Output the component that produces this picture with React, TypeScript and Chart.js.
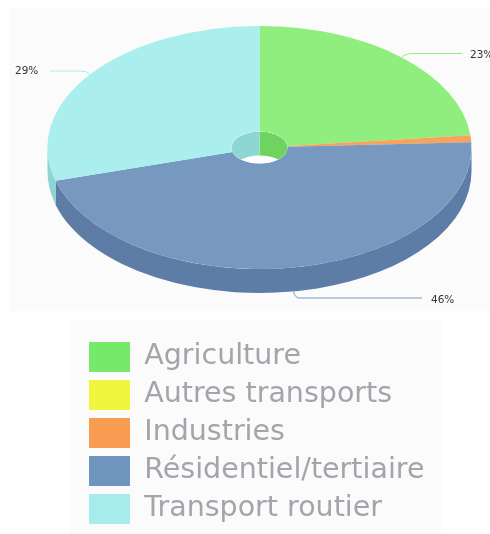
import React, { useEffect, useRef } from "react";
import { Chart, registerables } from "chart.js";

Chart.register(...registerables);

const categories = ["Agriculture", "Autres transports", "Industries", "Résidentiel/tertiaire", "Transport routier"];
const shares = [23.4, 0, 0.9, 46.3, 29.4];

const sliceColors = ["#90ee7e", "#f1f53c", "#f7a35c", "#7798bf", "#aaeeee"];
const swatchColors = ["#74e96a", "#f0f53e", "#f79c50", "#6f94bd", "#a6ecea"];
const wallColors = ["#6fd45f", "#c8cc30", "#d08a4c", "#5d7ca6", "#8dd6d2"];

// Projection of the flat pie
const CX = 259.5;
const CY = 147.5;
const RX = 212;
const RY = 121.5;
const HOLE = 28;
const DEPTH = 24;
const K = RY / RX;

type Callout = { index: number; bendX: number; bendY: number; endX: number; endY: number; textX: number; textY: number };
const callouts: Callout[] = [
  { index: 0, bendX: 12, bendY: -3, endX: 462, endY: 53.5, textX: 470, textY: 55 },
  { index: 3, bendX: 6, bendY: 6, endX: 422, endY: 298, textX: 431, textY: 300 },
  { index: 4, bendX: -10, bendY: -3, endX: 50, endY: 71, textX: 15, textY: 71.5 },
];

const pie3d = {
  id: "pie3d",
  beforeDraw(chart: any) {
    const { ctx } = chart;
    ctx.save();
    ctx.fillStyle = "#ffffff";
    ctx.fillRect(0, 0, 490, 534);
    ctx.fillStyle = "#fbfbfb";
    ctx.fillRect(9, 8, 481, 303);
    ctx.fillRect(70, 320, 371, 214);
    ctx.restore();
  },
  beforeDatasetsDraw(chart: any) {
    const { ctx } = chart;
    const arcs = chart.getDatasetMeta(0).data;
    ctx.save();
    arcs.forEach((arc: any, i: number) => {
      const a = Math.max(arc.startAngle, 0);
      const b = Math.min(arc.endAngle, Math.PI);
      if (b <= a) return;
      ctx.beginPath();
      ctx.ellipse(CX, CY, RX, RY, 0, a, b);
      ctx.ellipse(CX, CY + DEPTH, RX, RY, 0, b, a, true);
      ctx.closePath();
      ctx.fillStyle = wallColors[i];
      ctx.fill();
    });
    ctx.restore();
    ctx.save();
    const a0 = arcs[0];
    ctx.translate(CX, CY);
    ctx.scale(1, K);
    ctx.translate(-a0.x, -a0.y);
  },
  afterDatasetsDraw(chart: any) {
    const { ctx } = chart;
    ctx.restore();
    const arcs = chart.getDatasetMeta(0).data;

    // Hole: background, then the far inner wall
    const hr = HOLE * K;
    ctx.save();
    ctx.beginPath();
    ctx.ellipse(CX, CY, HOLE, hr, 0, 0, Math.PI * 2);
    ctx.clip();
    ctx.fillStyle = "#ffffff";
    ctx.fillRect(CX - HOLE, CY - hr, HOLE * 2, hr * 2);
    arcs.forEach((arc: any, i: number) => {
      [[-Math.PI, 0], [Math.PI, Math.PI * 2]].forEach(([lo, hi]) => {
        const a = Math.max(arc.startAngle, lo);
        const b = Math.min(arc.endAngle, hi);
        if (b <= a) return;
        ctx.beginPath();
        ctx.ellipse(CX, CY, HOLE, hr, 0, a, b);
        ctx.ellipse(CX, CY + DEPTH, HOLE, hr, 0, b, a, true);
        ctx.closePath();
        ctx.fillStyle = wallColors[i];
        ctx.fill();
      });
    });
    ctx.restore();

    // Callouts
    ctx.save();
    ctx.font = "10.5px 'DejaVu Sans'";
    ctx.textBaseline = "middle";
    ctx.textAlign = "left";
    callouts.forEach((c) => {
      const arc = arcs[c.index];
      const mid = (arc.startAngle + arc.endAngle) / 2;
      const sin = Math.sin(mid);
      const x = CX + RX * Math.cos(mid);
      const y = CY + RY * sin + (sin > 0 ? DEPTH : 0);
      ctx.beginPath();
      ctx.moveTo(x, y);
      ctx.quadraticCurveTo(x + c.bendX * 0.3, c.endY, x + c.bendX, c.endY);
      ctx.lineTo(c.endX, c.endY);
      ctx.strokeStyle = sliceColors[c.index];
      ctx.lineWidth = 1;
      ctx.stroke();
      ctx.fillStyle = "#333333";
      ctx.fillText(`${Math.round(shares[c.index])}%`, c.textX, c.textY);
    });
    ctx.restore();
  },
};

export default function App() {
  const ref = useRef<HTMLCanvasElement>(null);
  useEffect(() => {
    const chart = new Chart(ref.current!, {
      type: "doughnut",
      data: {
        labels: categories,
        datasets: [{ data: shares, backgroundColor: sliceColors, borderWidth: 0, clip: false } as any],
      },
      options: {
        responsive: false,
        animation: false,
        events: [],
        radius: RX,
        cutout: `${(HOLE / RX) * 100}%`,
        layout: { padding: { left: 81 } },
        plugins: {
          tooltip: { enabled: false },
          legend: {
            position: "bottom",
            align: "start",
            maxHeight: 200,
            labels: {
              boxWidth: 41,
              boxHeight: 30,
              padding: 8,
              color: "#a3a5ab",
              font: { family: "'DejaVu Sans'", size: 28.5, lineHeight: 1 },
              generateLabels: () =>
                categories.map((text, i) => ({
                  text,
                  fillStyle: swatchColors[i],
                  strokeStyle: swatchColors[i],
                  fontColor: "#a3a5ab",
                  lineWidth: 0,
                  hidden: false,
                  index: i,
                })),
            },
          },
        },
      } as any,
      plugins: [pie3d],
    });
    return () => chart.destroy();
  }, []);
  return (
    <canvas
      ref={ref}
      width={490}
      height={534}
      style={{ position: "fixed", left: 0, top: 0, display: "block", filter: "blur(0.4px)" }}
    />
  );
}
